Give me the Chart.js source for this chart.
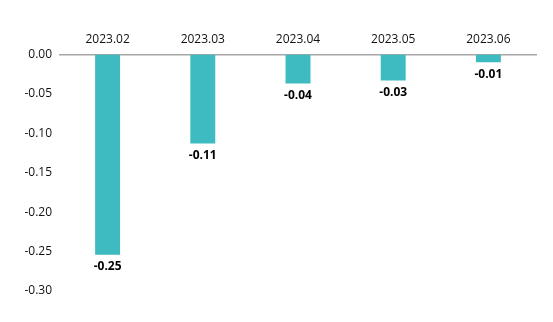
<!DOCTYPE html>
<html lang="en">
<head>
    <meta charset="UTF-8">
    <title>Monthly Change</title>
    <script src="https://cdn.jsdelivr.net/npm/chart.js"></script>
    <style>
        html, body { margin: 0; padding: 0; background: #fff; }
        .chart-container { position: relative; width: 553px; height: 322px; }
    </style>
</head>
<body>
    <div class="chart-container">
        <canvas id="changeChart"></canvas>
    </div>

    <script>
        // data
        const months = ['2023.02', '2023.03', '2023.04', '2023.05', '2023.06'];
        const changes = [-0.254, -0.113, -0.037, -0.033, -0.010];
        const yTicks = [0, -0.05, -0.10, -0.15, -0.20, -0.25, -0.30];

        // draw the value under each bar
        const valueLabels = {
            id: 'valueLabels',
            afterDatasetsDraw(chart) {
                const ctx = chart.ctx;
                const meta = chart.getDatasetMeta(0);
                ctx.save();
                ctx.font = 'bold 12px "Open Sans", sans-serif';
                ctx.fillStyle = '#000';
                ctx.textAlign = 'center';
                ctx.textBaseline = 'top';
                meta.data.forEach((bar, i) => {
                    ctx.fillText(changes[i].toFixed(2), bar.x, bar.y + 6);
                });
                ctx.restore();
            }
        };

        const ctx = document.getElementById('changeChart').getContext('2d');
        new Chart(ctx, {
            type: 'bar',
            data: {
                labels: months,
                datasets: [{
                    data: changes,
                    backgroundColor: '#3DBBC1',
                    barPercentage: 0.262,
                    categoryPercentage: 1.0
                }]
            },
            plugins: [valueLabels],
            options: {
                responsive: true,
                maintainAspectRatio: false,
                animation: false,
                layout: { padding: { top: 24, right: 17, bottom: 31, left: 0 } },
                plugins: {
                    legend: { display: false },
                    tooltip: { enabled: false }
                },
                scales: {
                    x: {
                        position: 'top',
                        grid: { display: false, drawTicks: false },
                        border: { display: true, color: '#a6a6a6', width: 1.5 },
                        ticks: {
                            color: '#111',
                            padding: 8,
                            font: { family: '"Open Sans", sans-serif', size: 12 }
                        }
                    },
                    y: {
                        min: -0.30,
                        max: 0,
                        afterFit(scale) { scale.width = 60; },
                        afterBuildTicks(scale) {
                            scale.ticks = yTicks.map(v => ({ value: v }));
                        },
                        grid: { display: false, drawTicks: false },
                        border: { display: false },
                        ticks: {
                            color: '#111',
                            padding: 8,
                            font: { family: '"Open Sans", sans-serif', size: 12 },
                            callback: v => v.toFixed(2)
                        }
                    }
                }
            }
        });
    </script>
</body>
</html>
